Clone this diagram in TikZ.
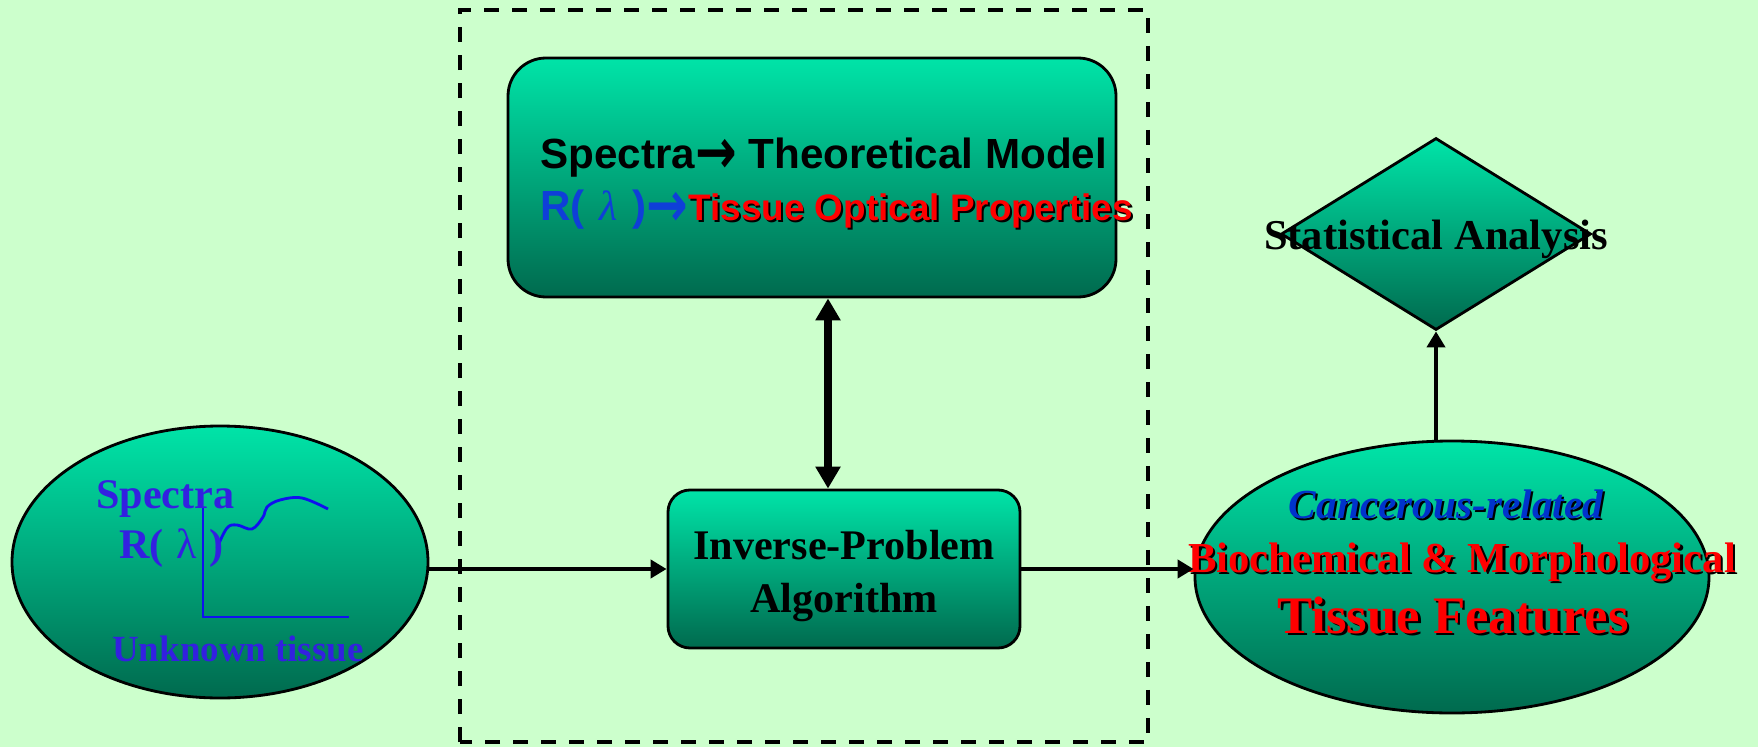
\documentclass[tikz,border=0pt]{standalone}
\usepackage{fontspec}
\setmainfont{Liberation Serif}
\newfontfamily\arialfont{Liberation Sans}
\newfontfamily\arrowfont{DejaVu Sans}
\usetikzlibrary{arrows.meta, positioning, shapes.geometric, calc}
\definecolor{bgGreen}{HTML}{CCFFCC}
\definecolor{shadeTop}{HTML}{00E4A8}
\definecolor{shadeBottom}{HTML}{006A4E}
\definecolor{spectraBlue}{HTML}{3320E0}
\definecolor{curveBlue}{HTML}{1010F0}
\definecolor{lambdaBlue}{HTML}{0F3FD8}
\definecolor{cancerBlue}{HTML}{0033CC}
\definecolor{featureRed}{HTML}{FF0000}
\newcommand{\shadowtxt}[2]{\makebox[0pt][l]{\hspace{0.05em}\raisebox{-0.05em}{\color{black}#2}}{\color{#1}#2}}
\newcommand{\bigarrow}{\raisebox{-0.12em}{\scalebox{1.18}[1.5]{\arrowfont\bfseries →}}}

\begin{document}
\begin{tikzpicture}[
    stage/.style={draw=black, line width=1.6pt, top color=shadeTop,
                  bottom color=shadeBottom, inner sep=0pt},
    txt/.style={inner sep=0pt, anchor=base},
    flow/.style={-{Triangle[length=0.32cm, width=0.36cm]}, line width=2.6pt},
    both/.style={{Triangle[length=0.44cm, width=0.48cm]}-{Triangle[length=0.44cm, width=0.48cm]},
                 line width=4pt},
  ]
    \fill[bgGreen] (0,0) rectangle (35.16,14.94);
    \useasboundingbox (0,0) rectangle (35.16,14.94);

    % forward model / inversion loop
    \draw[line width=2pt, dash pattern=on 0.3cm off 0.26cm] (9.2,0.1) rectangle (22.96,14.74);

    \node[stage, rounded corners=0.76cm, minimum width=12.16cm, minimum height=4.78cm]
      (model) at (16.24,11.39) {};
    \node[txt, anchor=base west, font=\fontsize{24}{29}\selectfont\arialfont\bfseries]
      (modelA) at (10.8,11.58) {Spectra\bigarrow{} Theoretical Model};
    \node[txt, anchor=base west, font=\fontsize{24}{29}\selectfont\arialfont\bfseries]
      (modelB) at (10.8,10.52)
      {{\color{lambdaBlue}R(\hspace{0.35em}{\rmfamily\mdseries\itshape λ}\hspace{0.35em})\bigarrow}{\fontsize{21}{25}\selectfont\shadowtxt{featureRed}{Tissue Optical Properties}}};

    \node[stage, rounded corners=0.44cm, minimum width=7.04cm, minimum height=3.16cm]
      (inverse) at (16.88,3.56) {};
    \node[txt, anchor=center, align=center, font=\fontsize{24}{30}\selectfont\bfseries]
      (inverseText) at (16.88,3.42) {Inverse-Problem\\Algorithm};

    % measured spectrum
    \node[stage, ellipse, minimum width=8.32cm, minimum height=5.44cm] (spectra) at (4.4,3.7) {};
    \draw[curveBlue, line width=1.6pt] (4.06,4.78) -- (4.06,2.6) -- (6.98,2.6);
    \draw[curveBlue, line width=1.6pt] plot[smooth, tension=0.6] coordinates
      {(4.34,3.98) (4.54,4.38) (4.74,4.44) (5.04,4.36) (5.26,4.6) (5.34,4.8) (5.6,4.94) (6.04,4.98) (6.56,4.76)};
    \node[txt, anchor=base west, font=\fontsize{24}{29}\selectfont\bfseries, text=spectraBlue]
      (spectraA) at (1.92,4.78) {Spectra};
    \node[txt, anchor=base west, font=\fontsize{24}{29}\selectfont\bfseries, text=spectraBlue]
      (spectraB) at (2.38,3.78) {R(\hspace{0.3em}{\mdseries λ}\hspace{0.3em})};
    \node[txt, anchor=base west, font=\fontsize{21}{25}\selectfont\bfseries, text=spectraBlue]
      (spectraC) at (2.24,1.72) {Unknown tissue};

    % output features
    \node[stage, ellipse, minimum width=10.28cm, minimum height=5.44cm] (features) at (29.04,3.4) {};
    \node[txt, font=\fontsize{23.5}{28}\selectfont\bfseries\itshape]
      (featA) at (28.92,4.58) {\shadowtxt{cancerBlue}{Cancerous-related}};
    \node[txt, font=\fontsize{24.3}{29}\selectfont\bfseries]
      (featB) at (29.24,3.5) {\shadowtxt{featureRed}{Biochemical \& Morphological}};
    \node[txt, font=\fontsize{30}{36}\selectfont\bfseries]
      (featC) at (29.06,2.28) {\shadowtxt{featureRed}{Tissue Features}};

    \node[stage, diamond, minimum width=6.2cm, minimum height=3.84cm] (stat) at (28.72,10.26) {};
    \node[txt, font=\fontsize{24.2}{29}\selectfont\bfseries] (statText) at (28.72,9.96) {Statistical Analysis};

    \coordinate (link) at (16.56,7);
    \draw[flow] (spectra.east |- inverse.west) -- (inverse.west);
    \draw[flow] (inverse.east) -- (inverse.east -| features.west);
    \draw[flow] (features.north -| stat.south) -- (stat.south);
    \draw[both] (model.south -| link) -- (inverse.north -| link);
  \end{tikzpicture}
\end{document}
